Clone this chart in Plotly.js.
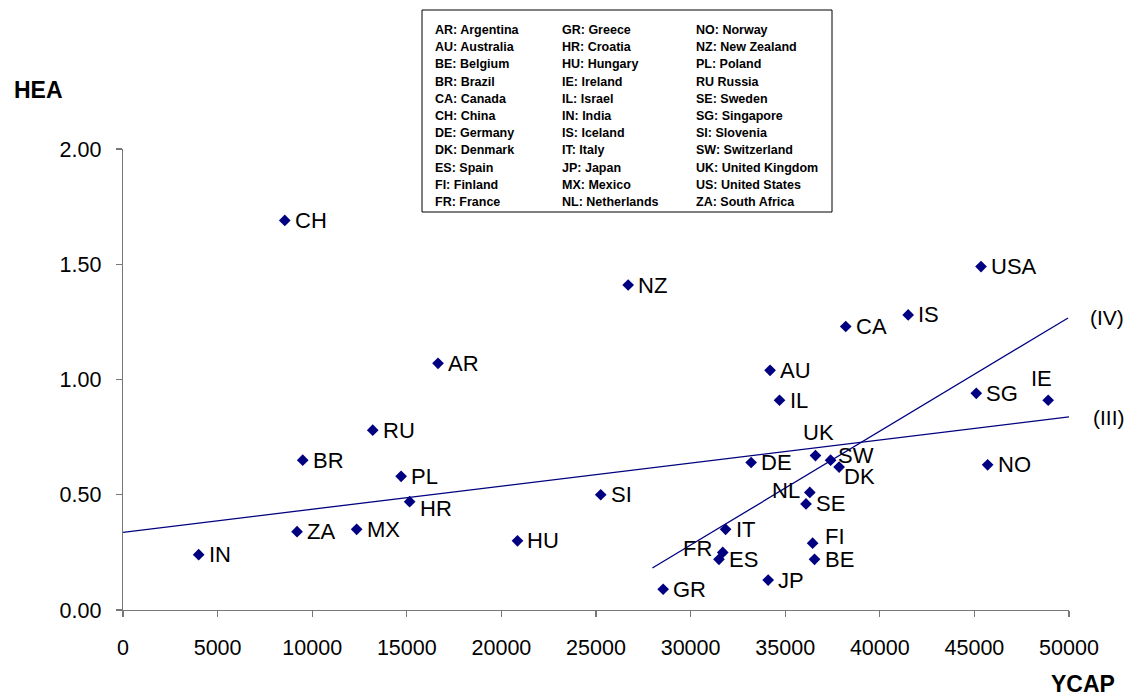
<!DOCTYPE html>
<html>
<head>
<meta charset="utf-8">
<script src="https://cdn.plot.ly/plotly-3.0.1.min.js"></script>
<style>html,body{margin:0;padding:0;background:#fff;}#chart{width:1128px;height:698px;}</style>
</head>
<body>
<div id="chart"></div>
<script>
// ---- data ----
const codes = ["CH","NZ","USA","IS","CA","AR","AU","IL","SG","IE","RU","BR","PL","HR","SI","UK","SW","DK","DE","NL","SE","NO","IT","FR","ES","FI","BE","JP","GR","HU","MX","ZA","IN"];
const ycap  = [8550,26700,45350,41500,38200,16650,34200,34700,45100,48900,13200,9500,14700,15150,25250,36600,37400,37850,33200,36300,36100,45700,31850,31700,31500,36450,36550,34100,28550,20850,12350,9200,4000];
const hea   = [1.69,1.41,1.49,1.28,1.23,1.07,1.04,0.91,0.94,0.91,0.78,0.65,0.58,0.47,0.50,0.67,0.65,0.62,0.64,0.51,0.46,0.63,0.35,0.25,0.22,0.29,0.22,0.13,0.09,0.30,0.35,0.34,0.24];

// fitted lines (end points)
const lineIII_x = [0, 50000];
const lineIII_y = [0.337, 0.838];
const lineIV_x  = [27980, 49950];
const lineIV_y  = [0.182, 1.267];
const lineNames = ["(III)", "(IV)"];

// key box entries
const keyCol1 = ["AR: Argentina","AU: Australia","BE: Belgium","BR: Brazil","CA: Canada","CH: China","DE: Germany","DK: Denmark","ES: Spain","FI: Finland","FR: France"];
const keyCol2 = ["GR: Greece","HR: Croatia","HU: Hungary","IE: Ireland","IL: Israel","IN: India","IS: Iceland","IT: Italy","JP: Japan","MX: Mexico","NL: Netherlands"];
const keyCol3 = ["NO: Norway","NZ: New Zealand","PL: Poland","RU Russia","SE: Sweden","SG: Singapore","SI: Slovenia","SW: Switzerland","UK: United Kingdom","US: United States","ZA: South Africa"];

const xTitle = "YCAP";
const yTitle = "HEA";

// ---- layout helpers (pixel positions) ----
const W = 1128, H = 698;
const L = 123, R = 1069, T = 149, B = 610;
const px = p => (p - L) / (R - L);
const py = p => (B - p) / (B - T);
const FONT = "Liberation Sans, Arial, sans-serif";
const NAVY = "#000080";

// label placement (style): [xanchor, xshift, yshift]
const place = {
  UK: ["center", 3, 23],
  IE: ["center", -7, 22],
  NL: ["right", -8, 2],
  FR: ["right", -9, 4],
  DK: ["left", 3, -9],
  SW: ["left", 5, 5],
  FI: ["left", 10, 7],
  HR: ["left", 8, -7]
};

const annotations = [];
codes.forEach((c, i) => {
  const p = place[c] || ["left", 8, 0];
  annotations.push({
    x: ycap[i], y: hea[i], xref: "x", yref: "y",
    text: c, showarrow: false,
    xanchor: p[0], yanchor: "middle",
    xshift: p[1], yshift: p[2],
    font: {family: FONT, size: 22, color: "#000"}
  });
});

// line labels
annotations.push({x: px(1088), y: lineIV_y[1], xref: "paper", yref: "y", text: lineNames[1], showarrow: false, xanchor: "left", yanchor: "middle", font: {family: FONT, size: 21, color: "#000"}});
annotations.push({x: px(1091), y: lineIII_y[1], xref: "paper", yref: "y", text: lineNames[0], showarrow: false, xanchor: "left", yanchor: "middle", yshift: -1, font: {family: FONT, size: 21, color: "#000"}});

// axis titles
annotations.push({x: px(12), y: py(90), xref: "paper", yref: "paper", text: "<b>" + yTitle + "</b>", showarrow: false, xanchor: "left", yanchor: "middle", font: {family: FONT, size: 23, color: "#000"}});
annotations.push({x: px(1116), y: py(684), xref: "paper", yref: "paper", text: "<b>" + xTitle + "</b>", showarrow: false, xanchor: "right", yanchor: "middle", borderpad: 0, font: {family: FONT, size: 23, color: "#000"}});

// key text
const colX = [433, 560, 694];
[keyCol1, keyCol2, keyCol3].forEach((col, ci) => {
  col.forEach((t, ri) => {
    annotations.push({
      x: px(colX[ci]), y: py(30 + ri * 17.2), xref: "paper", yref: "paper",
      text: "<b>" + t + "</b>", showarrow: false, xanchor: "left", yanchor: "middle",
      font: {family: FONT, size: 12.5, color: "#000"}
    });
  });
});

const shapes = [{
  type: "rect", xref: "paper", yref: "paper",
  x0: px(422), x1: px(832), y0: py(212), y1: py(10),
  line: {color: "#000", width: 1}, fillcolor: "#fff", layer: "below"
}];

const traces = [
  {x: lineIII_x, y: lineIII_y, mode: "lines", line: {color: NAVY, width: 1.3}, hoverinfo: "skip", cliponaxis: false},
  {x: lineIV_x, y: lineIV_y, mode: "lines", line: {color: NAVY, width: 1.3}, hoverinfo: "skip", cliponaxis: false},
  {x: ycap, y: hea, mode: "markers", marker: {symbol: "diamond", size: 9, color: NAVY, line: {width: 0}}, text: codes, cliponaxis: false}
];

const axisCommon = {
  showgrid: false, zeroline: false, showline: true,
  linecolor: "#777", linewidth: 1.3,
  ticks: "outside", ticklen: 6, tickwidth: 1.3, tickcolor: "#777",
  tickfont: {family: FONT, size: 21.5, color: "#000"},
  fixedrange: true
};

const layout = {
  width: W, height: H,
  margin: {l: L, r: W - R, t: T, b: H - B, pad: 0},
  paper_bgcolor: "#fff", plot_bgcolor: "#fff",
  showlegend: false,
  xaxis: Object.assign({}, axisCommon, {range: [0, 50000], tickvals: [0,5000,10000,15000,20000,25000,30000,35000,40000,45000,50000], tickformat: "d", exponentformat: "none", ticklabelstandoff: 12}),
  yaxis: Object.assign({}, axisCommon, {range: [0, 2], tickvals: [0, 0.5, 1, 1.5, 2], tickformat: ".2f", ticklabelstandoff: 10}),
  annotations: annotations,
  shapes: shapes
};

Plotly.newPlot("chart", traces, layout, {displayModeBar: false, staticPlot: true});
</script>
</body>
</html>
